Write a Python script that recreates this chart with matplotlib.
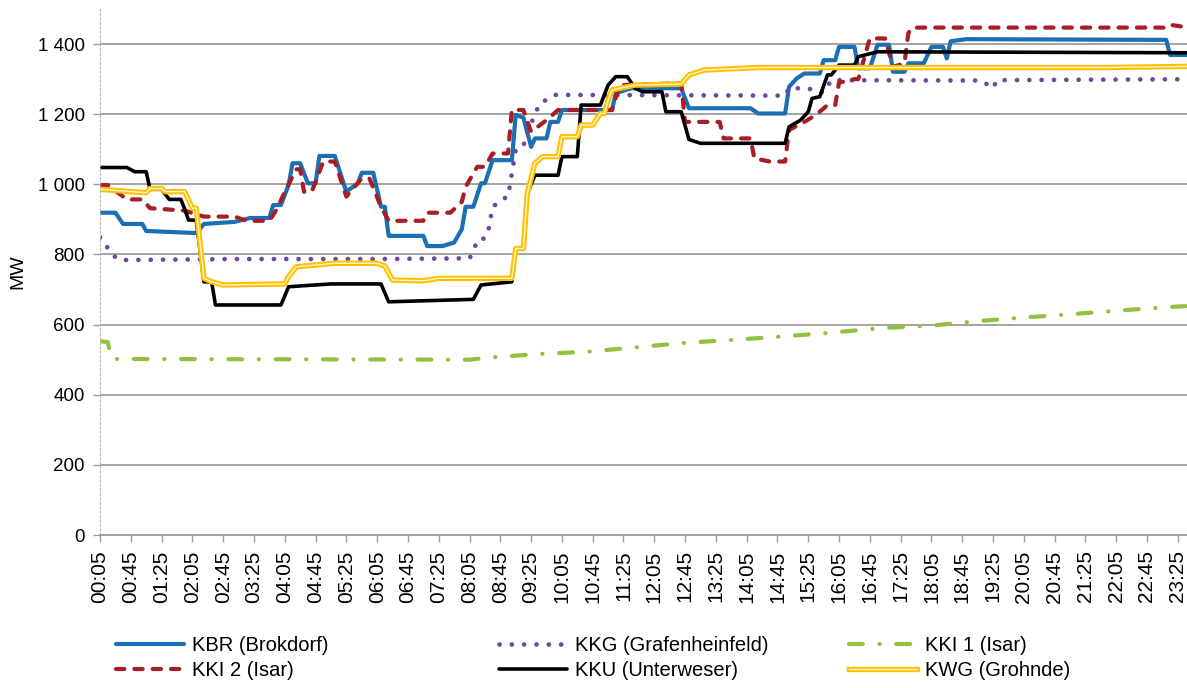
import matplotlib
matplotlib.use("Agg")
import matplotlib.pyplot as plt
import matplotlib.patheffects as pe

plt.rcParams['font.family'] = ['Liberation Sans', 'DejaVu Sans']

# ---------------- data (time "HH:MM", MW) ----------------
kbr_t = ["00:05","00:25","00:35","01:00","01:05","02:10","02:20","03:00","03:20","03:45","03:50","04:00",
         "04:10","04:15","04:25","04:35","04:45","04:50","05:10","05:25","05:40","05:45","06:00","06:10",
         "06:15","06:20","07:05","07:10","07:30","07:45","07:55","08:00","08:10","08:20","08:25","08:35",
         "09:00","09:05","09:15","09:25","09:30","09:45","09:50","10:00","10:05","11:10","11:15","11:35",
         "12:40","12:50","14:10","14:20","14:55","15:00","15:10","15:20","15:40","15:45","16:00","16:05",
         "16:25","16:30","16:45","16:55","17:10","17:15","17:30","17:35","17:55","18:05","18:20","18:25",
         "18:30","18:50","23:10","23:15","24:00"]
kbr_v = [919,919,887,887,867,861,887,893,904,904,941,941,
         998,1060,1060,1003,1003,1081,1081,979,1003,1033,1033,936,
         936,853,853,824,824,834,872,936,936,1003,1003,1069,
         1069,1198,1190,1107,1131,1131,1178,1178,1212,1212,1260,1274,
         1274,1217,1217,1202,1202,1278,1302,1316,1316,1354,1354,1392,
         1392,1331,1331,1398,1398,1321,1321,1345,1345,1392,1392,1359,
         1408,1414,1412,1369,1369]

kkg_t = ["00:05","00:10","00:20","00:30","03:00","06:00","08:05","08:10","08:15","08:25","08:30","08:35",
         "08:45","08:55","09:00","09:05","09:15","09:20","09:30","09:35","09:45","09:55","14:55","15:00",
         "15:25","15:35","15:45","15:55","19:10","19:25","19:30","24:00"]
kkg_v = [849,836,801,784,787,787,789,808,841,846,875,935,
         955,965,1031,1098,1109,1150,1198,1226,1242,1255,1253,1274,
         1274,1264,1262,1297,1296,1274,1297,1300]

kki1_t = ["00:05","00:15","00:20","08:05","08:30","09:35","10:40","11:40","12:45","13:50","14:50","15:55",
          "17:00","18:05","19:05","20:10","21:15","22:15","23:20","24:00"]
kki1_v = [553,550,502,500,506,516,523,535,548,557,566,577,
          590,597,610,621,631,641,651,655]

kki2_t = ["00:05","00:15","00:40","01:00","01:10","01:55","02:20","03:00","03:15","03:45","03:55","04:05",
          "04:20","04:25","04:30","04:40","04:55","05:10","05:25","05:45","05:55","06:10","06:20","07:05",
          "07:10","07:40","07:55","08:00","08:15","08:25","08:35","08:55","09:00","09:15","09:25","09:45",
          "10:00","11:10","11:20","12:40","12:45","13:30","13:35","14:10","14:15","14:35","14:55","15:00",
          "15:20","15:35","15:50","16:00","16:05","16:25","16:30","16:45","17:05","17:15","17:30","17:35",
          "17:40","23:10","23:15","23:30","24:00"]
kki2_v = [998,998,957,957,932,925,908,908,896,896,930,979,
          1043,1043,979,979,1065,1065,965,1017,1017,936,896,896,
          919,919,950,993,1050,1050,1088,1088,1212,1212,1150,1183,
          1212,1212,1283,1288,1178,1178,1131,1131,1074,1065,1065,1155,
          1178,1198,1226,1226,1290,1300,1300,1416,1416,1335,1345,1431,
          1447,1447,1455,1450,1445]

kku_t = ["00:05","00:40","00:50","01:05","01:10","01:25","01:35","01:50","01:55","02:00","02:10","02:20",
         "02:30","02:35","04:00","04:10","05:05","06:10","06:20","08:10","08:20","09:00","09:05","09:15",
         "09:20","09:30","10:00","10:05","10:25","10:30","10:55","11:05","11:15","11:30","11:40","11:50",
         "12:15","12:20","12:40","12:50","13:05","14:55","15:00","15:15","15:25","15:30","15:40","15:50",
         "15:55","16:05","16:25","16:30","16:55","24:00"]
kku_v = [1048,1048,1036,1036,986,986,957,957,930,898,898,722,
         722,656,656,708,716,716,665,672,713,722,817,817,
         974,1026,1026,1079,1079,1226,1226,1283,1307,1307,1274,1264,
         1264,1207,1207,1128,1117,1117,1164,1183,1207,1245,1250,1312,
         1312,1340,1340,1364,1378,1375]

kwg_t = ["00:05","01:05","01:10","01:25","01:30","01:55","02:05","02:10","02:20","02:30","02:45","04:05",
         "04:10","04:20","05:10","06:05","06:15","06:25","07:05","07:25","09:00","09:05","09:15","09:20",
         "09:30","09:40","10:00","10:05","10:25","10:30","10:45","10:55","11:00","11:05","11:10","11:40",
         "12:40","12:50","13:10","14:20","21:45","24:00"]
kwg_v = [986,976,988,988,979,979,932,932,732,722,713,716,
         737,765,775,775,767,727,725,732,732,817,817,974,
         1060,1079,1079,1136,1136,1169,1169,1202,1202,1240,1269,1283,
         1286,1312,1326,1333,1333,1337]

x_tick_labels = ["00:05","00:45","01:25","02:05","02:45","03:25","04:05","04:45","05:25","06:05","06:45",
                 "07:25","08:05","08:45","09:25","10:05","10:45","11:25","12:05","12:45","13:25","14:05",
                 "14:45","15:25","16:05","16:45","17:25","18:05","18:45","19:25","20:05","20:45","21:25",
                 "22:05","22:45","23:25"]
y_ticks = [0, 200, 400, 600, 800, 1000, 1200, 1400]
y_tick_labels = ["0", "200", "400", "600", "800", "1 000", "1 200", "1 400"]


def to_min(s):
    h, m = s.split(":")
    return int(h) * 60 + int(m)


# ---------------- figure ----------------
W, H = 1187, 688
fig = plt.figure(figsize=(W / 100, H / 100), dpi=100)
ax = fig.add_axes([100 / W, (H - 535) / H, (W - 100) / W, (535 - 9) / H])

blue = "#1B6FB5"
purple = "#6E479F"
green = "#93C13F"
red = "#A81E27"
black = "#000000"
gold = "#FFC000"

l_kbr, = ax.plot([to_min(t) for t in kbr_t], kbr_v, color=blue, lw=3.0,
                 solid_joinstyle="round", solid_capstyle="round", label="KBR (Brokdorf)")
l_kkg, = ax.plot([to_min(t) for t in kkg_t], kkg_v, color=purple, lw=3.4,
                 linestyle=(0, (0.01, 2.6)), dash_capstyle="round", label="KKG (Grafenheinfeld)")
l_kki1, = ax.plot([to_min(t) for t in kki1_t], kki1_v, color=green, lw=3.0,
                  linestyle=(0, (3.3, 4.0, 0.05, 4.0)), dash_capstyle="round", label="KKI 1 (Isar)")
l_kki2, = ax.plot([to_min(t) for t in kki2_t], kki2_v, color=red, lw=3.0,
                  linestyle=(0, (2.0, 2.4)), dash_capstyle="round", dash_joinstyle="round",
                  label="KKI 2 (Isar)")
l_kku, = ax.plot([to_min(t) for t in kku_t], kku_v, color=black, lw=2.6,
                 solid_joinstyle="round", solid_capstyle="round", label="KKU (Unterweser)")
l_kwg, = ax.plot([to_min(t) for t in kwg_t], kwg_v, color="#FFF6CC", lw=1.0,
                 solid_joinstyle="round",
                 path_effects=[pe.Stroke(linewidth=3.9, foreground=gold), pe.Normal()],
                 label="KWG (Grohnde)")

ax.set_xlim(5, 1417)
ax.set_ylim(0, 1500)

xt = [to_min(s) for s in x_tick_labels]
ax.set_xticks(xt)
ax.set_xticklabels(x_tick_labels, rotation=90, fontsize=15)
ax.set_yticks(y_ticks)
ax.set_yticklabels(y_tick_labels, fontsize=13.5)

ax.grid(axis="y", color="#9C9C9C", lw=1.3)
ax.set_axisbelow(True)
for s in ["top", "right"]:
    ax.spines[s].set_visible(False)
ax.spines["left"].set_color("#B8B8B8")
ax.spines["left"].set_linestyle((0, (2, 2)))
ax.spines["left"].set_linewidth(0.8)
ax.spines["bottom"].set_color("#9C9C9C")
ax.spines["bottom"].set_linewidth(1.3)
ax.tick_params(axis="x", direction="out", length=5, color="#9C9C9C", width=1.0, pad=6)
ax.tick_params(axis="y", direction="out", length=5, color="#9C9C9C", width=1.0, pad=6)

ax.set_ylabel("MW", fontsize=14, labelpad=8)

# legends: three columns
leg_kw = dict(loc="upper left", frameon=False, fontsize=14.5, handlelength=3.4,
              handletextpad=0.35, labelspacing=0.3, borderpad=0, borderaxespad=0)
fig.legend([l_kbr, l_kki2], ["KBR (Brokdorf)", "KKI 2 (Isar)"],
           bbox_to_anchor=(116 / W, 1 - 636 / H), **leg_kw)
fig.legend([l_kkg, l_kku], ["KKG (Grafenheinfeld)", "KKU (Unterweser)"],
           bbox_to_anchor=(499 / W, 1 - 636 / H), **leg_kw)
fig.legend([l_kki1, l_kwg], ["KKI 1 (Isar)", "KWG (Grohnde)"],
           bbox_to_anchor=(849 / W, 1 - 636 / H), **leg_kw)

fig.savefig("out.png", dpi=100)
